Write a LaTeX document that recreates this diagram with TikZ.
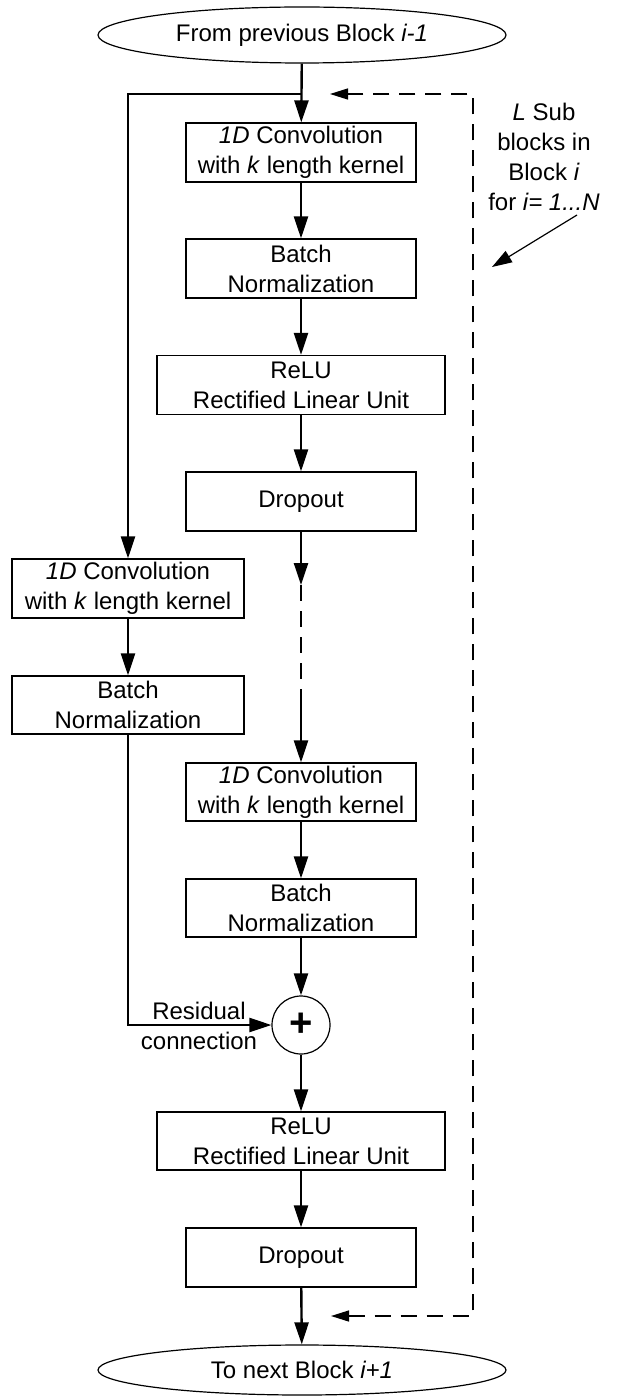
\documentclass[tikz,border=0pt]{standalone}
\usepackage{fontspec}
\setmainfont{Liberation Sans}
\usetikzlibrary{shapes.geometric,arrows.meta}
\begin{document}
\begin{tikzpicture}[x=1pt,y=-1pt,
  txt/.style={font=\fontsize{24}{30}\selectfont, align=center, inner sep=0pt},
  box/.style={txt, draw, line width=1.2pt, minimum width=230pt, minimum height=59pt},
  widebox/.style={box, minimum width=288pt},
  term/.style={txt, draw, ellipse, line width=1.2pt, minimum width=408pt, minimum height=56pt},
  arr/.style={-{Triangle[length=22pt,width=14pt]}, line width=2.4pt},
  dashline/.style={line width=1.4pt, dash pattern=on 16pt off 10pt},
  dtip/.style={{Triangle[length=18pt,width=11pt]}-{Triangle[length=18pt,width=11pt]}},
  thinarr/.style={-{Triangle[length=20pt,width=13pt]}, line width=1.2pt}]
\useasboundingbox (0,0) rectangle (621,1396);
% nodes
\node[term] (top) at (302,35) {From previous Block \textit{i-1}};
\node[box] (c1) at (301,152.5) {\textit{1D} Convolution\\with \textit{k} length kernel};
\node[box] (b1) at (301,268.5) {Batch\\Normalization};
\node[widebox] (r1) at (301,385) {ReLU\\Rectified Linear Unit};
\node[box] (d1) at (301,501.5) {Dropout};
\node[box, minimum width=232pt] (lc) at (128,588.5) {\textit{1D} Convolution\\with \textit{k} length kernel};
\node[box, minimum width=232pt, minimum height=58pt] (lb) at (128,705) {Batch\\Normalization};
\node[box, minimum height=58pt] (c2) at (301,792) {\textit{1D} Convolution\\with \textit{k} length kernel};
\node[box, minimum height=58pt] (b2) at (301,908) {Batch\\Normalization};
\node[draw, circle, line width=1.2pt, minimum size=58pt, inner sep=0pt, font=\fontsize{40}{40}\selectfont\bfseries] (plus) at (301,1025) {+};
\node[widebox, minimum height=58pt] (r2) at (301,1141) {ReLU\\Rectified Linear Unit};
\node[box] (d2) at (301,1257.5) {Dropout};
\node[term, minimum height=50pt] (bot) at (302,1370) {To next Block \textit{i+1}};
\node[txt] (res) at (199,1026) {Residual\\connection};
\node[txt] (lsub) at (544,157) {\textit{L} Sub\\blocks in\\Block \textit{i}\\for \textit{i= 1...N}};
% coordinates
\coordinate (j1) at (301,94);
\coordinate (m1) at (301,585);
\coordinate (m2) at (301,705);
\coordinate (rt) at (473,94);
\coordinate (rb) at (473,1316);
\coordinate (tt) at (330,94);
\coordinate (tb) at (331,1316);
\coordinate (ls) at (577,215);
\coordinate (lt) at (492,267);
% main column
\draw[arr] (top) -- (c1);
\draw[arr] (c1) -- (b1);
\draw[arr] (b1) -- (r1);
\draw[arr] (r1) -- (d1);
\draw[arr] (d1) -- (m1);
\draw[dashline] (m1) -- (m2);
\draw[arr] (m2) -- (c2);
\draw[arr] (c2) -- (b2);
\draw[arr] (b2) -- (plus);
\draw[arr] (plus) -- (r2);
\draw[arr] (r2) -- (d2);
\draw[arr] (d2) -- (bot);
% skip branch
\draw[arr] (j1) -| (lc.north);
\draw[arr] (lc) -- (lb);
\draw[arr] (lb.south) |- (plus.west);
% loop back
\draw[dashline, dtip] (tb) -- (rb) -- (rt) -- (tt);
\draw[thinarr] (ls) -- (lt);
\end{tikzpicture}
\end{document}
